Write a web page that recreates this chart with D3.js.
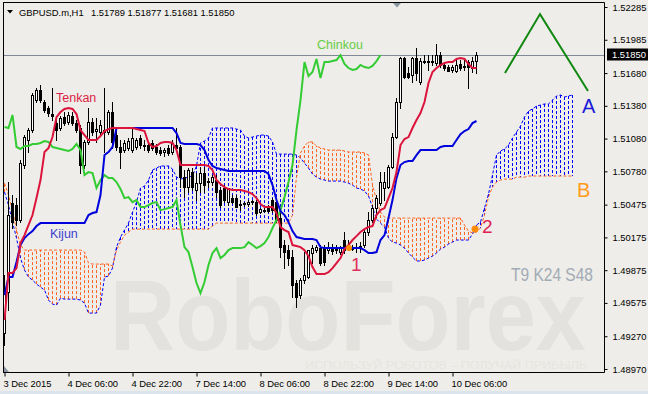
<!DOCTYPE html>
<html><head><meta charset="utf-8">
<script src="https://cdn.jsdelivr.net/npm/d3@7"></script>
<style>body{margin:0;background:#eeede9;} svg{display:block;font-family:"Liberation Sans",Arial,sans-serif;}</style>
</head><body><svg id="c" width="648" height="394"></svg>
<script>
// ---------- data ----------
const xLabels = ["3 Dec 2015","4 Dec 06:00","4 Dec 22:00","7 Dec 14:00","8 Dec 06:00","8 Dec 22:00","9 Dec 14:00","10 Dec 06:00"];
const xTickIdx = [0,16,32,48,64,80,96,112];
const yTicks = [1.52285,1.51985,1.51680,1.51380,1.51080,1.50780,1.50475,1.50175,1.49875,1.49575,1.49270,1.48970];
const lastPrice = 1.51850;
const title = "GBPUSD.m,H1";
const ohlcText = "1.51789 1.51877 1.51681 1.51850";

const open = [1.49299,1.49674,1.50490,1.50471,1.50334,1.50838,1.51067,1.51158,1.51433,1.51525,
1.51415,1.51360,1.51305,1.51222,1.51177,1.51277,1.51231,1.51286,1.51222,1.51177,
1.50838,1.51049,1.51231,1.51149,1.51140,1.51158,1.51140,1.51323,1.51112,1.51003,
1.50975,1.50994,1.50975,1.51003,1.51085,1.51021,1.51021,1.51040,1.51003,1.50975,
1.50957,1.50994,1.50957,1.51021,1.51003,1.50727,1.50636,1.50773,1.50609,1.50672,
1.50764,1.50691,1.50682,1.50700,1.50609,1.50627,1.50498,1.50535,1.50535,1.50471,
1.50480,1.50480,1.50498,1.50498,1.50407,1.50416,1.50444,1.50517,1.50498,1.50352,
1.50105,1.50059,1.49995,1.49757,1.49647,1.49784,1.49812,1.50032,1.50059,1.50077,
1.50077,1.50059,1.50077,1.50059,1.50041,1.50151,1.50105,1.50068,1.50077,1.50077,
1.50105,1.50224,1.50334,1.50444,1.50490,1.50627,1.50636,1.50819,1.51094,1.51415,
1.51818,1.51680,1.51662,1.51818,1.51598,1.51781,1.51790,1.51781,1.51772,1.51845,
1.51754,1.51735,1.51708,1.51699,1.51763,1.51735,1.51781,1.51726,1.51789];
const high = [1.49830,1.50682,1.50563,1.50535,1.50883,1.51112,1.51177,1.51497,1.51543,1.51570,
1.51433,1.51378,1.51543,1.51250,1.51286,1.51323,1.51323,1.51323,1.51250,1.51204,
1.51067,1.51360,1.51268,1.51268,1.51250,1.51543,1.51341,1.51415,1.51158,1.51067,
1.51067,1.51085,1.51177,1.51085,1.51112,1.51067,1.51040,1.51067,1.51030,1.51003,
1.50994,1.51021,1.51067,1.51177,1.51021,1.50792,1.50810,1.50810,1.50764,1.50819,
1.50819,1.50718,1.50746,1.50746,1.50636,1.50654,1.50627,1.50563,1.50563,1.50517,
1.50498,1.50517,1.50517,1.50517,1.50444,1.50444,1.50471,1.50535,1.50535,1.50425,
1.50151,1.50105,1.50059,1.49784,1.49803,1.50041,1.50059,1.50105,1.50105,1.50105,
1.50105,1.50132,1.50114,1.50105,1.50096,1.50224,1.50151,1.50105,1.50123,1.50132,
1.50242,1.50407,1.50471,1.50563,1.50773,1.50773,1.50838,1.51131,1.51451,1.51827,
1.51827,1.51735,1.51827,1.51909,1.51818,1.51845,1.51845,1.51845,1.51946,1.51873,
1.51772,1.51754,1.51754,1.51799,1.51799,1.51799,1.51799,1.51827,1.51877];
const low = [1.49189,1.49509,1.50261,1.50288,1.50315,1.50810,1.50957,1.51140,1.51415,1.51415,
1.51323,1.51286,1.51250,1.51067,1.51158,1.51204,1.51213,1.51204,1.51140,1.50764,
1.50810,1.51030,1.51112,1.51049,1.51121,1.50957,1.51121,1.50994,1.50975,1.50810,
1.50957,1.50975,1.50957,1.50985,1.50994,1.50975,1.50957,1.50975,1.50938,1.50929,
1.50920,1.50929,1.50938,1.50975,1.50636,1.50544,1.50590,1.50609,1.50517,1.50590,
1.50590,1.50636,1.50654,1.50544,1.50453,1.50498,1.50471,1.50490,1.50453,1.50425,
1.50462,1.50462,1.50480,1.50380,1.50398,1.50407,1.50407,1.50407,1.50315,1.49995,
1.49894,1.49922,1.49628,1.49537,1.49619,1.49757,1.49803,1.49940,1.50041,1.49922,
1.49922,1.50032,1.50023,1.50032,1.50023,1.50032,1.50059,1.50059,1.50041,1.50041,
1.50086,1.50196,1.50315,1.50361,1.50471,1.50517,1.50627,1.50810,1.51085,1.51360,
1.51634,1.51634,1.51598,1.51616,1.51580,1.51772,1.51708,1.51754,1.51754,1.51735,
1.51708,1.51699,1.51690,1.51690,1.51708,1.51708,1.51543,1.51690,1.51681];
const close = [1.49674,1.50380,1.50315,1.50334,1.50856,1.51094,1.51158,1.51479,1.51525,1.51433,
1.51341,1.51314,1.51286,1.51158,1.51268,1.51222,1.51296,1.51222,1.51158,1.50838,
1.51049,1.51231,1.51140,1.51167,1.51204,1.51140,1.51323,1.51049,1.51003,1.50957,
1.51040,1.51058,1.51085,1.51067,1.51021,1.51012,1.50975,1.50994,1.50957,1.50948,
1.50975,1.50948,1.51040,1.50994,1.50727,1.50636,1.50792,1.50636,1.50672,1.50764,
1.50654,1.50682,1.50727,1.50590,1.50471,1.50517,1.50627,1.50498,1.50453,1.50480,
1.50490,1.50498,1.50508,1.50398,1.50434,1.50425,1.50416,1.50425,1.50334,1.50086,
1.50041,1.49986,1.49738,1.49628,1.49784,1.49830,1.50059,1.50077,1.50086,1.49940,
1.49949,1.50086,1.50050,1.50068,1.50077,1.50059,1.50068,1.50086,1.50086,1.50096,
1.50224,1.50334,1.50444,1.50535,1.50682,1.50682,1.50819,1.51094,1.51415,1.51818,
1.51643,1.51643,1.51818,1.51680,1.51790,1.51790,1.51781,1.51790,1.51845,1.51754,
1.51726,1.51699,1.51735,1.51754,1.51726,1.51745,1.51735,1.51790,1.51850];

const tenkan = [1.49418,1.49848,1.49848,1.49894,1.50123,1.50196,1.50288,1.50380,1.50535,1.50700,
1.50957,1.50993,1.51094,1.51277,1.51323,1.51351,1.51360,1.51351,1.51305,1.51158,
1.51112,1.51067,1.51067,1.51067,1.51103,1.51149,1.51167,1.51177,1.51177,1.51177,
1.51177,1.51177,1.51177,1.51167,1.51158,1.51149,1.51040,1.51003,1.51012,1.51040,
1.51049,1.51049,1.51040,1.50975,1.50838,1.50838,1.50838,1.50838,1.50838,1.50838,
1.50838,1.50829,1.50792,1.50700,1.50664,1.50636,1.50618,1.50609,1.50609,1.50609,
1.50600,1.50590,1.50572,1.50535,1.50480,1.50453,1.50453,1.50453,1.50398,1.50270,
1.50242,1.50224,1.50105,1.50096,1.50086,1.50059,1.50004,1.49903,1.49839,1.49839,
1.49839,1.49857,1.49894,1.49940,1.49986,1.50068,1.50105,1.50151,1.50187,1.50224,
1.50251,1.50270,1.50279,1.50380,1.50425,1.50444,1.50535,1.50627,1.50773,1.51021,
1.51076,1.51094,1.51177,1.51250,1.51314,1.51415,1.51589,1.51690,1.51726,1.51754,
1.51772,1.51781,1.51781,1.51809,1.51818,1.51809,1.51763,1.51726,1.51726];
const kijun = [1.49647,1.49812,1.49812,1.49949,1.50105,1.50169,1.50205,1.50233,1.50279,1.50306,
1.50306,1.50306,1.50306,1.50306,1.50306,1.50306,1.50306,1.50306,1.50306,1.50306,
1.50306,1.50380,1.50398,1.50407,1.50563,1.50929,1.50957,1.51003,1.51177,1.51177,
1.51177,1.51177,1.51177,1.51177,1.51177,1.51177,1.51177,1.51177,1.51177,1.51177,
1.51177,1.51177,1.51177,1.51131,1.51040,1.51030,1.51030,1.51030,1.51030,1.51021,
1.50975,1.50883,1.50829,1.50810,1.50801,1.50792,1.50783,1.50783,1.50783,1.50783,
1.50783,1.50783,1.50783,1.50783,1.50783,1.50783,1.50755,1.50654,1.50517,1.50416,
1.50380,1.50315,1.50233,1.50178,1.50169,1.50160,1.50160,1.50160,1.50151,1.50086,
1.50077,1.50077,1.50077,1.50077,1.50077,1.50077,1.50077,1.50077,1.50077,1.50077,
1.50059,1.50032,1.50032,1.50041,1.50151,1.50196,1.50352,1.50517,1.50718,1.50838,
1.50865,1.50874,1.50874,1.50929,1.50975,1.50975,1.50975,1.50975,1.50975,1.51003,
1.51012,1.51012,1.51012,1.51067,1.51121,1.51149,1.51167,1.51222,1.51241];
const chinkou = [1.51186,1.51177,1.51296,1.51003,1.50985,1.51012,1.51012,1.51030,1.51030,1.51040,
1.51058,1.51049,1.51003,1.50994,1.50985,1.50975,1.50966,1.50985,1.51030,1.50975,
1.50746,1.50773,1.50764,1.50627,1.50700,1.50746,1.50718,1.50718,1.50682,1.50618,
1.50535,1.50544,1.50498,1.50517,1.50453,1.50453,1.50471,1.50490,1.50498,1.50425,
1.50434,1.50444,1.50453,1.50517,1.50288,1.50086,1.50041,1.49903,1.49757,1.49665,
1.49766,1.49922,1.50032,1.50077,1.49986,1.50014,1.50059,1.50077,1.50077,1.50077,
1.50086,1.50132,1.50105,1.50077,1.50096,1.50123,1.50178,1.50261,1.50334,1.50425,
1.50544,1.50682,1.50838,1.51158,1.51433,1.51781,1.51653,1.51690,1.51809,1.51634,
1.51781,1.51781,1.51790,1.51799,1.51845,1.51763,1.51726,1.51708,1.51717,1.51754,
1.51735,1.51726,1.51745,1.51790,1.51845];
const spanA = [1.50590,1.50471,1.50315,1.50169,1.49986,1.49876,1.49812,1.49784,1.49748,1.49720,
1.49693,1.49601,1.49564,1.49555,1.49619,1.49610,1.49610,1.49610,1.49610,1.49601,
1.49573,1.49482,1.49482,1.49482,1.49555,1.49812,1.49821,1.49894,1.50086,1.50178,
1.50242,1.50306,1.50407,1.50498,1.50627,1.50645,1.50700,1.50792,1.50810,1.50829,
1.50829,1.50829,1.50801,1.50727,1.50709,1.50718,1.50727,1.50737,1.50829,1.51040,
1.51058,1.51085,1.51177,1.51177,1.51177,1.51177,1.51177,1.51177,1.51167,1.51158,
1.51103,1.51085,1.51094,1.51103,1.51112,1.51112,1.51103,1.51049,1.50938,1.50938,
1.50938,1.50938,1.50938,1.50929,1.50902,1.50856,1.50810,1.50755,1.50727,1.50709,
1.50700,1.50691,1.50691,1.50691,1.50691,1.50682,1.50672,1.50654,1.50627,1.50618,
1.50600,1.50554,1.50453,1.50343,1.50306,1.50270,1.50169,1.50132,1.50123,1.50105,
1.50077,1.50032,1.49995,1.49959,1.49959,1.49968,1.49986,1.50004,1.50032,1.50068,
1.50086,1.50114,1.50132,1.50151,1.50151,1.50151,1.50151,1.50206,1.50288,1.50315,
1.50444,1.50572,1.50746,1.50929,1.50966,1.50985,1.51021,1.51085,1.51140,1.51195,
1.51278,1.51332,1.51351,1.51378,1.51387,1.51397,1.51397,1.51433,1.51470,1.51479,
1.51461,1.51470,1.51479];
const spanB = [1.50672,1.50563,1.50425,1.50242,1.50105,1.50059,1.50059,1.50059,1.50059,1.50059,
1.50059,1.50059,1.50059,1.50059,1.50059,1.50059,1.50059,1.50059,1.50059,1.50059,
1.50041,1.49940,1.49931,1.49931,1.49931,1.49931,1.49931,1.49913,1.50059,1.50132,
1.50196,1.50224,1.50251,1.50251,1.50251,1.50251,1.50251,1.50251,1.50251,1.50251,
1.50251,1.50251,1.50251,1.50251,1.50251,1.50251,1.50251,1.50251,1.50251,1.50251,
1.50251,1.50251,1.50279,1.50306,1.50306,1.50306,1.50306,1.50306,1.50306,1.50306,
1.50306,1.50306,1.50306,1.50306,1.50306,1.50306,1.50306,1.50306,1.50306,1.50306,
1.50306,1.50306,1.50380,1.50727,1.50948,1.51012,1.51049,1.51049,1.51012,1.50994,
1.50985,1.50975,1.50975,1.50975,1.50975,1.50966,1.50957,1.50957,1.50957,1.50957,
1.50948,1.50929,1.50654,1.50517,1.50407,1.50361,1.50352,1.50352,1.50352,1.50352,
1.50352,1.50352,1.50352,1.50352,1.50352,1.50352,1.50352,1.50352,1.50352,1.50352,
1.50352,1.50352,1.50352,1.50352,1.50352,1.50288,1.50233,1.50215,1.50224,1.50261,
1.50380,1.50544,1.50636,1.50682,1.50700,1.50709,1.50709,1.50709,1.50727,1.50727,
1.50727,1.50737,1.50737,1.50737,1.50737,1.50737,1.50737,1.50737,1.50737,1.50737,
1.50737,1.50737,1.50737];
const zigzag = [[1.51680,0],[1.52220,1],[1.51515,2]]; // drawn annotation: price at left, apex, right

// ---------- layout ----------
const svg = d3.select("#c");
const L = 3, R = 604, T = 3, B = 372;
const x = d3.scaleLinear().domain([0, 1]).range([4.5, 8.5]);
const y = d3.scaleLinear().domain([1.48970, 1.52285]).range([369, 7]);

svg.append("rect").attr("width", 648).attr("height", 394).attr("fill", "#eeede9");
svg.append("rect").attr("x", 0).attr("y", 391).attr("width", 648).attr("height", 3).attr("fill", "#dbe3ec");

// watermark (background, unclipped)
svg.append("text").attr("x", 110).attr("y", 350).attr("font-size", 100).attr("font-weight", "bold")
  .attr("fill", "#e3e2de").attr("textLength", 476).attr("lengthAdjust", "spacingAndGlyphs")
  .text("RoboForex");
svg.append("text").attr("x", 305).attr("y", 369).attr("font-size", 11)
  .attr("fill", "#e6e5e1").attr("textLength", 282).attr("lengthAdjust", "spacingAndGlyphs")
  .text("ИСПОЛЬЗУЙ РОБОТОВ – ПОЛУЧАЙ ПРИБЫЛЬ");

svg.append("defs").append("clipPath").attr("id", "plot")
  .append("rect").attr("x", L + 1).attr("y", T + 1).attr("width", R - L - 1).attr("height", B - T - 1);
const g = svg.append("g").attr("clip-path", "url(#plot)");

// price line
g.append("line").attr("x1", L).attr("x2", R).attr("y1", Math.round(y(lastPrice)) + 0.5).attr("y2", Math.round(y(lastPrice)) + 0.5)
  .attr("stroke", "#7f8a96").attr("stroke-width", 1);

// cloud hatch
const BLUE = "#0000ff", ORANGE = "#ff6420";
g.append("g").selectAll("line").data(spanA).join("line")
  .attr("x1", (d, i) => x(i)).attr("x2", (d, i) => x(i))
  .attr("y1", d => y(d)).attr("y2", (d, i) => y(spanB[i]))
  .attr("stroke", (d, i) => d >= spanB[i] ? BLUE : ORANGE)
  .attr("stroke-width", 1).attr("stroke-dasharray", "3,2");

const lineGen = d3.line().x((d, i) => x(i)).y(d => y(d));
g.append("path").attr("d", lineGen(spanA)).attr("fill", "none").attr("stroke", BLUE).attr("stroke-width", 1).attr("stroke-dasharray", "3,2");
g.append("path").attr("d", lineGen(spanB)).attr("fill", "none").attr("stroke", ORANGE).attr("stroke-width", 1).attr("stroke-dasharray", "3,2");

// candles
const cg = g.append("g");
open.forEach((o, i) => {
  const c = close[i];
  const cx = x(i);
  cg.append("line").attr("x1", cx).attr("x2", cx).attr("y1", Math.round(y(high[i]))).attr("y2", Math.round(y(low[i])) + 1)
    .attr("stroke", "#000").attr("stroke-width", 1);
  const yt = Math.round(y(Math.max(o, c))), yb = Math.round(y(Math.min(o, c)));
  if (c > o) {
    cg.append("rect").attr("x", cx - 1).attr("y", yt + 0.5).attr("width", 2).attr("height", Math.max(1, yb - yt))
      .attr("fill", "#fff").attr("stroke", "#000").attr("stroke-width", 1);
  } else {
    cg.append("rect").attr("x", cx - 1.5).attr("y", yt).attr("width", 3).attr("height", Math.max(1, yb - yt + 1))
      .attr("fill", "#000");
  }
});

// Ichimoku lines
g.append("path").attr("d", lineGen(chinkou)).attr("fill", "none").attr("stroke", "#33cc33").attr("stroke-width", 2);
g.append("path").attr("d", lineGen(kijun)).attr("fill", "none").attr("stroke", "#0000dd").attr("stroke-width", 2);
g.append("path").attr("d", lineGen(tenkan)).attr("fill", "none").attr("stroke", "#dc143c").attr("stroke-width", 2);

// annotations
const zz = d3.scaleLinear().domain([0, 1, 2]).range([505, 540, 588]);
g.append("path").attr("d", d3.line().x(d => zz(d[1])).y(d => y(d[0]))(zigzag))
  .attr("fill", "none").attr("stroke", "#118811").attr("stroke-width", 2);
g.append("circle").attr("cx", 349).attr("cy", 248).attr("r", 3).attr("fill", "#ff8c00");
g.append("circle").attr("cx", 475).attr("cy", 229).attr("r", 3.5).attr("fill", "#ff8c00");

const txt = (t, xx, yy, size, col) => g.append("text").attr("x", xx).attr("y", yy).attr("font-size", size).attr("fill", col).text(t);
txt("Tenkan", 56, 102, 12.5, "#dc1e46");
txt("Kijun", 50, 238, 12.5, "#3f3fd0");
txt("Chinkou", 317, 49, 12.5, "#66cc44");
txt("A", 582, 113, 20, "#1a1ad8");
txt("B", 577, 197, 20, "#ff9a1a");
txt("1", 351, 271, 19, "#e03060");
txt("2", 482, 233, 19, "#e02050");
g.append("text").attr("x", 511).attr("y", 281).attr("font-size", 18).attr("fill", "#a2aab4")
  .attr("textLength", 82).attr("lengthAdjust", "spacingAndGlyphs").text("T9 K24 S48");

// frame
svg.append("path").attr("d", `M${L + 0.5},${B + 0.5}V${T - 0.5}M${L},${T - 0.5}H${R + 0.5}V${B + 0.5}H${L}`)
  .attr("fill", "none").attr("stroke", "#000").attr("stroke-width", 1);

// y axis
const ya = svg.append("g").attr("transform", `translate(${R + 0.5},0)`)
  .call(d3.axisRight(y).tickValues(yTicks).tickFormat(d3.format(".5f")).tickSize(3).tickPadding(5));
ya.select(".domain").remove();
ya.selectAll("text").attr("font-size", 9.4).attr("font-family", "Liberation Sans, Arial, sans-serif").attr("fill", "#000");
ya.selectAll("line").attr("stroke", "#000");

// last price tag
const ly = y(lastPrice);
svg.append("rect").attr("x", 607).attr("y", ly - 6).attr("width", 41).attr("height", 12).attr("fill", "#000");
svg.append("text").attr("x", 612).attr("y", ly + 3.4).attr("font-size", 9.4).attr("fill", "#fff").text(d3.format(".5f")(lastPrice));

// x axis
const xa = svg.append("g").attr("transform", `translate(0,${B + 0.5})`)
  .call(d3.axisBottom(x).tickValues(xTickIdx).tickFormat((d, i) => xLabels[i]).tickSize(4).tickPadding(4));
xa.select(".domain").remove();
xa.selectAll("text").attr("text-anchor", "start").attr("dx", -1.5).attr("font-size", 9.4)
  .attr("font-family", "Liberation Sans, Arial, sans-serif").attr("fill", "#000");
xa.selectAll("line").attr("stroke", "#000");

// title
svg.append("path").attr("d", "M7,10H13L10,13.5Z").attr("fill", "#000");
svg.append("text").attr("x", 19).attr("y", 15.5).attr("font-size", 9.4).attr("fill", "#000").text(title);
svg.append("text").attr("x", 91).attr("y", 15.5).attr("font-size", 9.4).attr("fill", "#000").text(ohlcText);
// shift markers
svg.append("path").attr("d", "M393,3H401L397,7.5Z").attr("fill", "#8a96a3");
svg.append("path").attr("d", "M4,366L4,372L9,372Z").attr("fill", "#8a96a3");
</script>
</body></html>
